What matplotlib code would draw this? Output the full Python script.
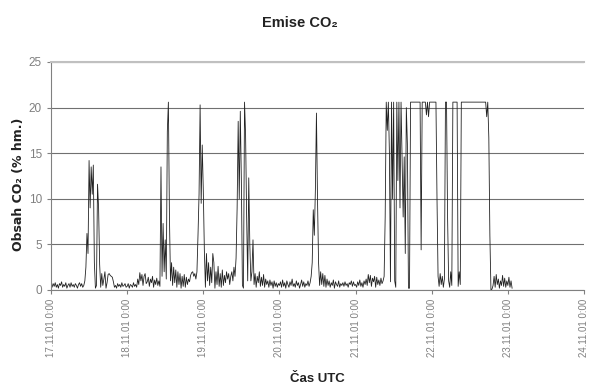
import numpy as np
import matplotlib
matplotlib.use("Agg")
import matplotlib.pyplot as plt

plt.rcParams['font.family'] = ['Liberation Sans', 'DejaVu Sans']

# CO2 content (% hm.), one value every 20 minutes, starting 17.11.01 0:00
day17 = [0.5, 0.3, 0.7, 0.4, 0.8, 0.3, 0.6, 0.2, 0.7, 0.5, 0.9, 0.3,
         0.6, 0.4, 0.8, 0.2, 0.5, 0.7, 0.3, 0.8, 0.4, 0.6, 0.3, 0.7,
         0.5, 0.2, 0.6, 0.8, 0.4, 0.7, 0.3, 0.5, 1.0, 2.5, 6.2, 4.0,
         14.2, 9.0, 13.5, 10.5, 13.7, 3.0, 0.2, 0.5, 11.6, 9.0, 2.8, 0.3,
         1.8, 0.5, 1.2, 2.0, 0.2, 0.8, 1.7, 1.8, 1.6, 1.5, 1.4, 0.9,
         0.3, 0.5, 0.2, 0.7, 0.4, 0.6, 0.3, 0.8, 0.4, 0.5, 0.7, 0.3]
day18 = [0.4, 0.7, 0.2, 0.6, 0.5, 0.3, 0.8, 0.4, 0.6, 0.3, 1.2, 0.6,
         1.9, 1.0, 1.7, 0.5, 1.5, 1.8, 0.7, 0.9, 1.4, 0.4, 1.2, 0.8,
         1.5, 0.3, 1.1, 0.6, 1.3, 0.5, 1.0, 0.4, 13.5, 1.5, 7.3, 2.0,
         5.5, 1.2, 17.4, 20.6, 8.0, 1.0, 3.0, 0.5, 2.5, 0.8, 2.2, 0.3,
         2.0, 0.6, 1.8, 0.2, 1.5, 0.4, 1.7, 0.3, 1.4, 0.6, 1.2, 0.9,
         1.6, 1.9, 2.0, 1.5, 1.8, 1.2, 2.0, 6.0, 10.5, 20.3, 9.5, 15.9]
day19 = [11.0, 4.4, 0.3, 4.0, 1.0, 3.0, 0.5, 2.5, 0.8, 4.0, 3.0, 0.2,
         2.0, 0.6, 2.6, 0.4, 1.8, 0.3, 2.2, 0.5, 1.6, 0.8, 2.0, 1.2,
         1.8, 0.6, 1.5, 2.0, 1.0, 2.5, 1.5, 3.5, 9.0, 18.5, 10.0, 19.6,
         12.0, 0.5, 0.2, 20.6, 17.0, 8.0, 1.0, 12.3, 5.0, 1.0, 2.0, 5.5,
         0.6, 1.8, 0.3, 1.5, 0.8, 2.0, 0.4, 1.4, 0.5, 1.7, 0.3, 1.2,
         0.6, 1.0, 0.3, 1.1, 0.5, 0.9, 0.2, 1.0, 0.4, 0.8, 0.3, 0.7]
day20 = [0.5, 0.9, 0.3, 1.1, 0.4, 0.8, 0.2, 1.0, 0.6, 0.3, 0.9, 0.5,
         1.2, 0.4, 0.7, 0.3, 1.0, 0.5, 0.8, 0.2, 0.6, 1.1, 0.4, 0.9,
         0.3, 0.7, 0.5, 1.0, 0.4, 0.8, 1.5, 3.0, 8.8, 6.0, 11.0, 19.4,
         10.0, 3.0, 0.5, 2.0, 0.6, 1.8, 0.4, 1.6, 0.3, 1.2, 0.5, 1.0,
         0.3, 0.8, 0.5, 1.1, 0.2, 0.9, 0.6, 0.4, 1.0, 0.3, 0.7, 0.5,
         0.8, 0.4, 0.9, 0.5, 0.7, 0.3, 0.8, 0.6, 1.0, 0.4, 0.9, 0.5]
day21 = [0.6, 0.3, 0.9, 0.5, 1.1, 0.4, 0.8, 0.3, 1.0, 0.6, 1.2, 0.5,
         1.7, 0.8, 1.6, 0.4, 1.3, 0.9, 1.5, 0.3, 1.4, 0.6, 1.1, 0.5,
         1.3, 0.7, 1.0, 1.5, 8.0, 20.6, 17.5, 20.6, 15.0, 0.9, 20.6, 10.0,
         20.6, 1.0, 0.3, 20.6, 12.0, 20.6, 9.0, 20.6, 14.0, 8.0, 14.6, 4.0,
         20.0, 16.0, 0.2, 0.2, 20.6, 20.6, 20.6, 20.6, 20.6, 20.6, 20.6, 20.6,
         20.6, 20.6, 4.4, 20.6, 20.6, 20.6, 20.6, 19.2, 20.6, 19.0, 20.6, 20.6]
day22 = [20.6, 20.6, 20.6, 20.6, 20.6, 10.0, 1.5, 0.4, 1.8, 0.6, 1.5, 0.3,
         1.2, 20.6, 20.6, 8.0, 1.0, 0.3, 2.0, 0.5, 20.6, 20.6, 20.6, 20.6,
         20.6, 0.4, 2.0, 0.6, 20.6, 20.6, 20.6, 20.6, 20.6, 20.6, 20.6, 20.6,
         20.6, 20.6, 20.6, 20.6, 20.6, 20.6, 20.6, 20.6, 20.6, 20.6, 20.6, 20.6,
         20.6, 20.6, 20.6, 20.6, 19.0, 20.6, 16.7, 6.0, 0.0, 0.1, 0.5, 1.5,
         0.3, 1.7, 0.6, 1.2, 0.2, 1.0, 0.5, 1.6, 0.4, 1.3, 0.3, 1.0]
day23 = [0.5, 1.4, 0.3, 1.0, 0.2]

tick_labels = ['17.11.01 0:00', '18.11.01 0:00', '19.11.01 0:00', '20.11.01 0:00',
               '21.11.01 0:00', '22.11.01 0:00', '23.11.01 0:00', '24.11.01 0:00']

co2 = day17 + day18 + day19 + day20 + day21 + day22 + day23
days = np.arange(len(co2)) * (20.0 / 60.0 / 24.0)

fig = plt.figure(figsize=(5.89, 3.92), dpi=100)
ax = fig.add_axes([51 / 589, 1 - 290 / 392, 533 / 589, 228 / 392])

ax.plot(days, co2, color='#222222', lw=0.6)

ax.set_xlim(0, 7)
ax.set_ylim(0, 25)
ax.set_yticks(np.arange(0, 26, 5))
ax.set_xticks(np.arange(len(tick_labels)))
ax.set_xticklabels(tick_labels, rotation=90, color='#808080', fontsize=7)
ax.tick_params(axis='y', colors='#808080', labelsize=8.5, length=3, width=0.8)
ax.tick_params(axis='x', length=3, width=0.8, colors='#808080', labelcolor='#808080')

ax.grid(axis='y', color='#707070', lw=0.8)
ax.set_axisbelow(True)
ax.spines['right'].set_visible(False)
ax.spines['top'].set_color('#c0c0c0')
ax.spines['top'].set_linewidth(1.5)
ax.spines['left'].set_color('#808080')
ax.spines['bottom'].set_color('#808080')

fig.text(300 / 589, 1 - 23 / 392, 'Emise CO\u2082', ha='center', va='center',
         fontsize=10.5, fontweight='bold', color='#222222')
fig.text(317 / 589, 1 - 379 / 392, '\u010cas UTC', ha='center', va='center',
         fontsize=9.5, fontweight='bold', color='#222222')
fig.text(19 / 589, 1 - 184 / 392, 'Obsah CO\u2082 (% hm.)', ha='center', va='center',
         rotation=90, fontsize=9, fontweight='bold', color='#222222',
         family=['DejaVu Sans'])

fig.savefig('out.png', dpi=100)
